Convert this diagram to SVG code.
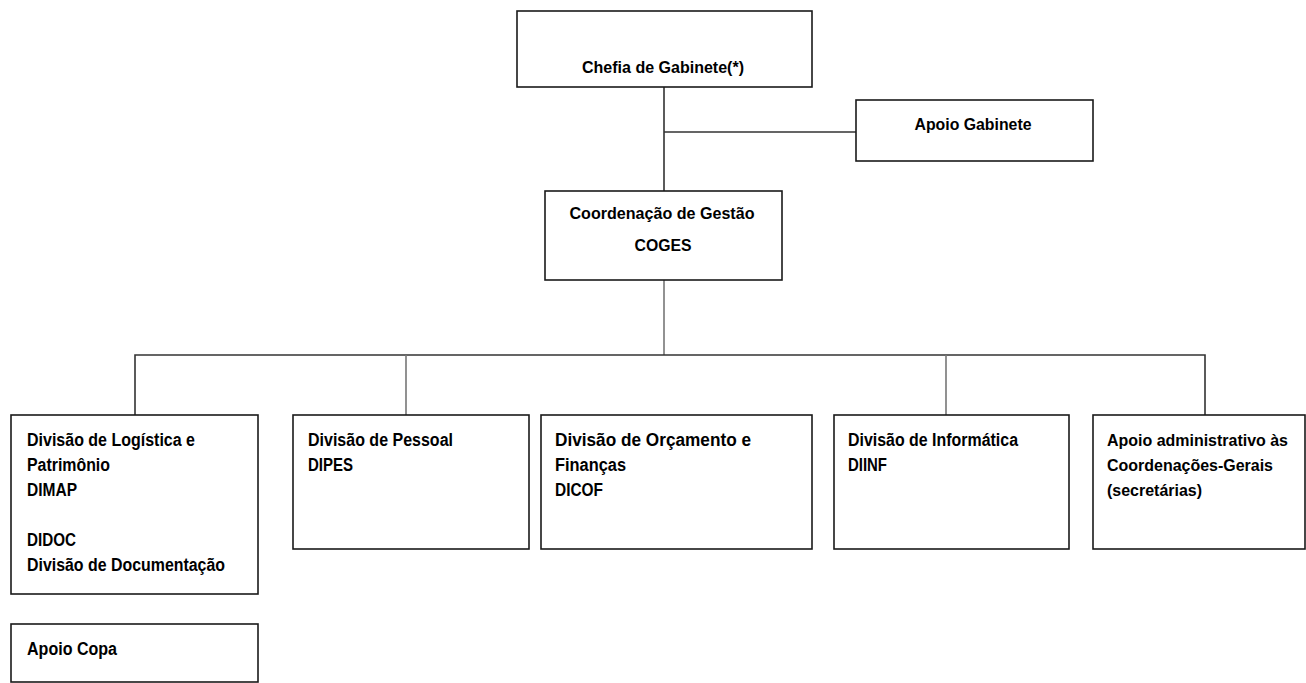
<svg xmlns="http://www.w3.org/2000/svg" width="1306" height="683" viewBox="0 0 1306 683">
<style>
.box{fill:#fff;stroke:#1a1a1a;stroke-width:1.6}
.t{font-family:"Liberation Sans",Arial,sans-serif;font-weight:bold;font-size:18px;fill:#000}
.s{font-size:16px}
.m{font-size:17px}
.c{text-anchor:middle}
.ln{fill:none;stroke:#333;stroke-width:1.6}
.lg{fill:none;stroke:#777;stroke-width:1.6}
</style>
<rect width="1306" height="683" fill="#fff"/>
<g id="connectors">
<path class="ln" d="M664 87V191M664 132H856"/>
<path class="lg" d="M664 280V355"/>
<path class="ln" d="M135 415V355H1205V415"/>
<path class="lg" d="M406 355V415M946 355V415"/>
</g>
<g id="chefia">
<rect class="box" x="517" y="11" width="295" height="76"/>
<text class="t s c" x="663" y="73" textLength="162" lengthAdjust="spacingAndGlyphs">Chefia de Gabinete(*)</text>
</g>
<g id="apoio-gabinete">
<rect class="box" x="856" y="100" width="237" height="61"/>
<text class="t s c" x="973" y="130" textLength="117" lengthAdjust="spacingAndGlyphs">Apoio Gabinete</text>
</g>
<g id="coges">
<rect class="box" x="545" y="191" width="237" height="89"/>
<text class="t m c" x="662" y="219" textLength="185" lengthAdjust="spacingAndGlyphs">Coordenação de Gestão</text>
<text class="t m c" x="663" y="251" textLength="57" lengthAdjust="spacingAndGlyphs">COGES</text>
</g>
<g id="dimap">
<rect class="box" x="11" y="415" width="247" height="179"/>
<text class="t" x="27" y="446" textLength="168" lengthAdjust="spacingAndGlyphs">Divisão de Logística e</text>
<text class="t" x="27" y="471" textLength="83" lengthAdjust="spacingAndGlyphs">Patrimônio</text>
<text class="t" x="27" y="496" textLength="50" lengthAdjust="spacingAndGlyphs">DIMAP</text>
<text class="t" x="27" y="546" textLength="49" lengthAdjust="spacingAndGlyphs">DIDOC</text>
<text class="t" x="27" y="571" textLength="198" lengthAdjust="spacingAndGlyphs">Divisão de Documentação</text>
</g>
<g id="apoio-copa">
<rect class="box" x="11" y="624" width="247" height="58"/>
<text class="t" x="27" y="655" textLength="90" lengthAdjust="spacingAndGlyphs">Apoio Copa</text>
</g>
<g id="dipes">
<rect class="box" x="293" y="415" width="236" height="134"/>
<text class="t" x="308" y="446" textLength="145" lengthAdjust="spacingAndGlyphs">Divisão de Pessoal</text>
<text class="t" x="308" y="471" textLength="45" lengthAdjust="spacingAndGlyphs">DIPES</text>
</g>
<g id="dicof">
<rect class="box" x="541" y="415" width="271" height="134"/>
<text class="t" x="555" y="446" textLength="196" lengthAdjust="spacingAndGlyphs">Divisão de Orçamento e</text>
<text class="t" x="555" y="471" textLength="71" lengthAdjust="spacingAndGlyphs">Finanças</text>
<text class="t" x="555" y="496" textLength="48" lengthAdjust="spacingAndGlyphs">DICOF</text>
</g>
<g id="diinf">
<rect class="box" x="834" y="415" width="235" height="134"/>
<text class="t" x="848" y="446" textLength="170" lengthAdjust="spacingAndGlyphs">Divisão de Informática</text>
<text class="t" x="848" y="471" textLength="39" lengthAdjust="spacingAndGlyphs">DIINF</text>
</g>
<g id="apoio-adm">
<rect class="box" x="1093" y="415" width="212" height="134"/>
<text class="t s" x="1107" y="446" textLength="181" lengthAdjust="spacingAndGlyphs">Apoio administrativo às</text>
<text class="t s" x="1107" y="471" textLength="166" lengthAdjust="spacingAndGlyphs">Coordenações-Gerais</text>
<text class="t s" x="1107" y="496" textLength="95" lengthAdjust="spacingAndGlyphs">(secretárias)</text>
</g>
</svg>
